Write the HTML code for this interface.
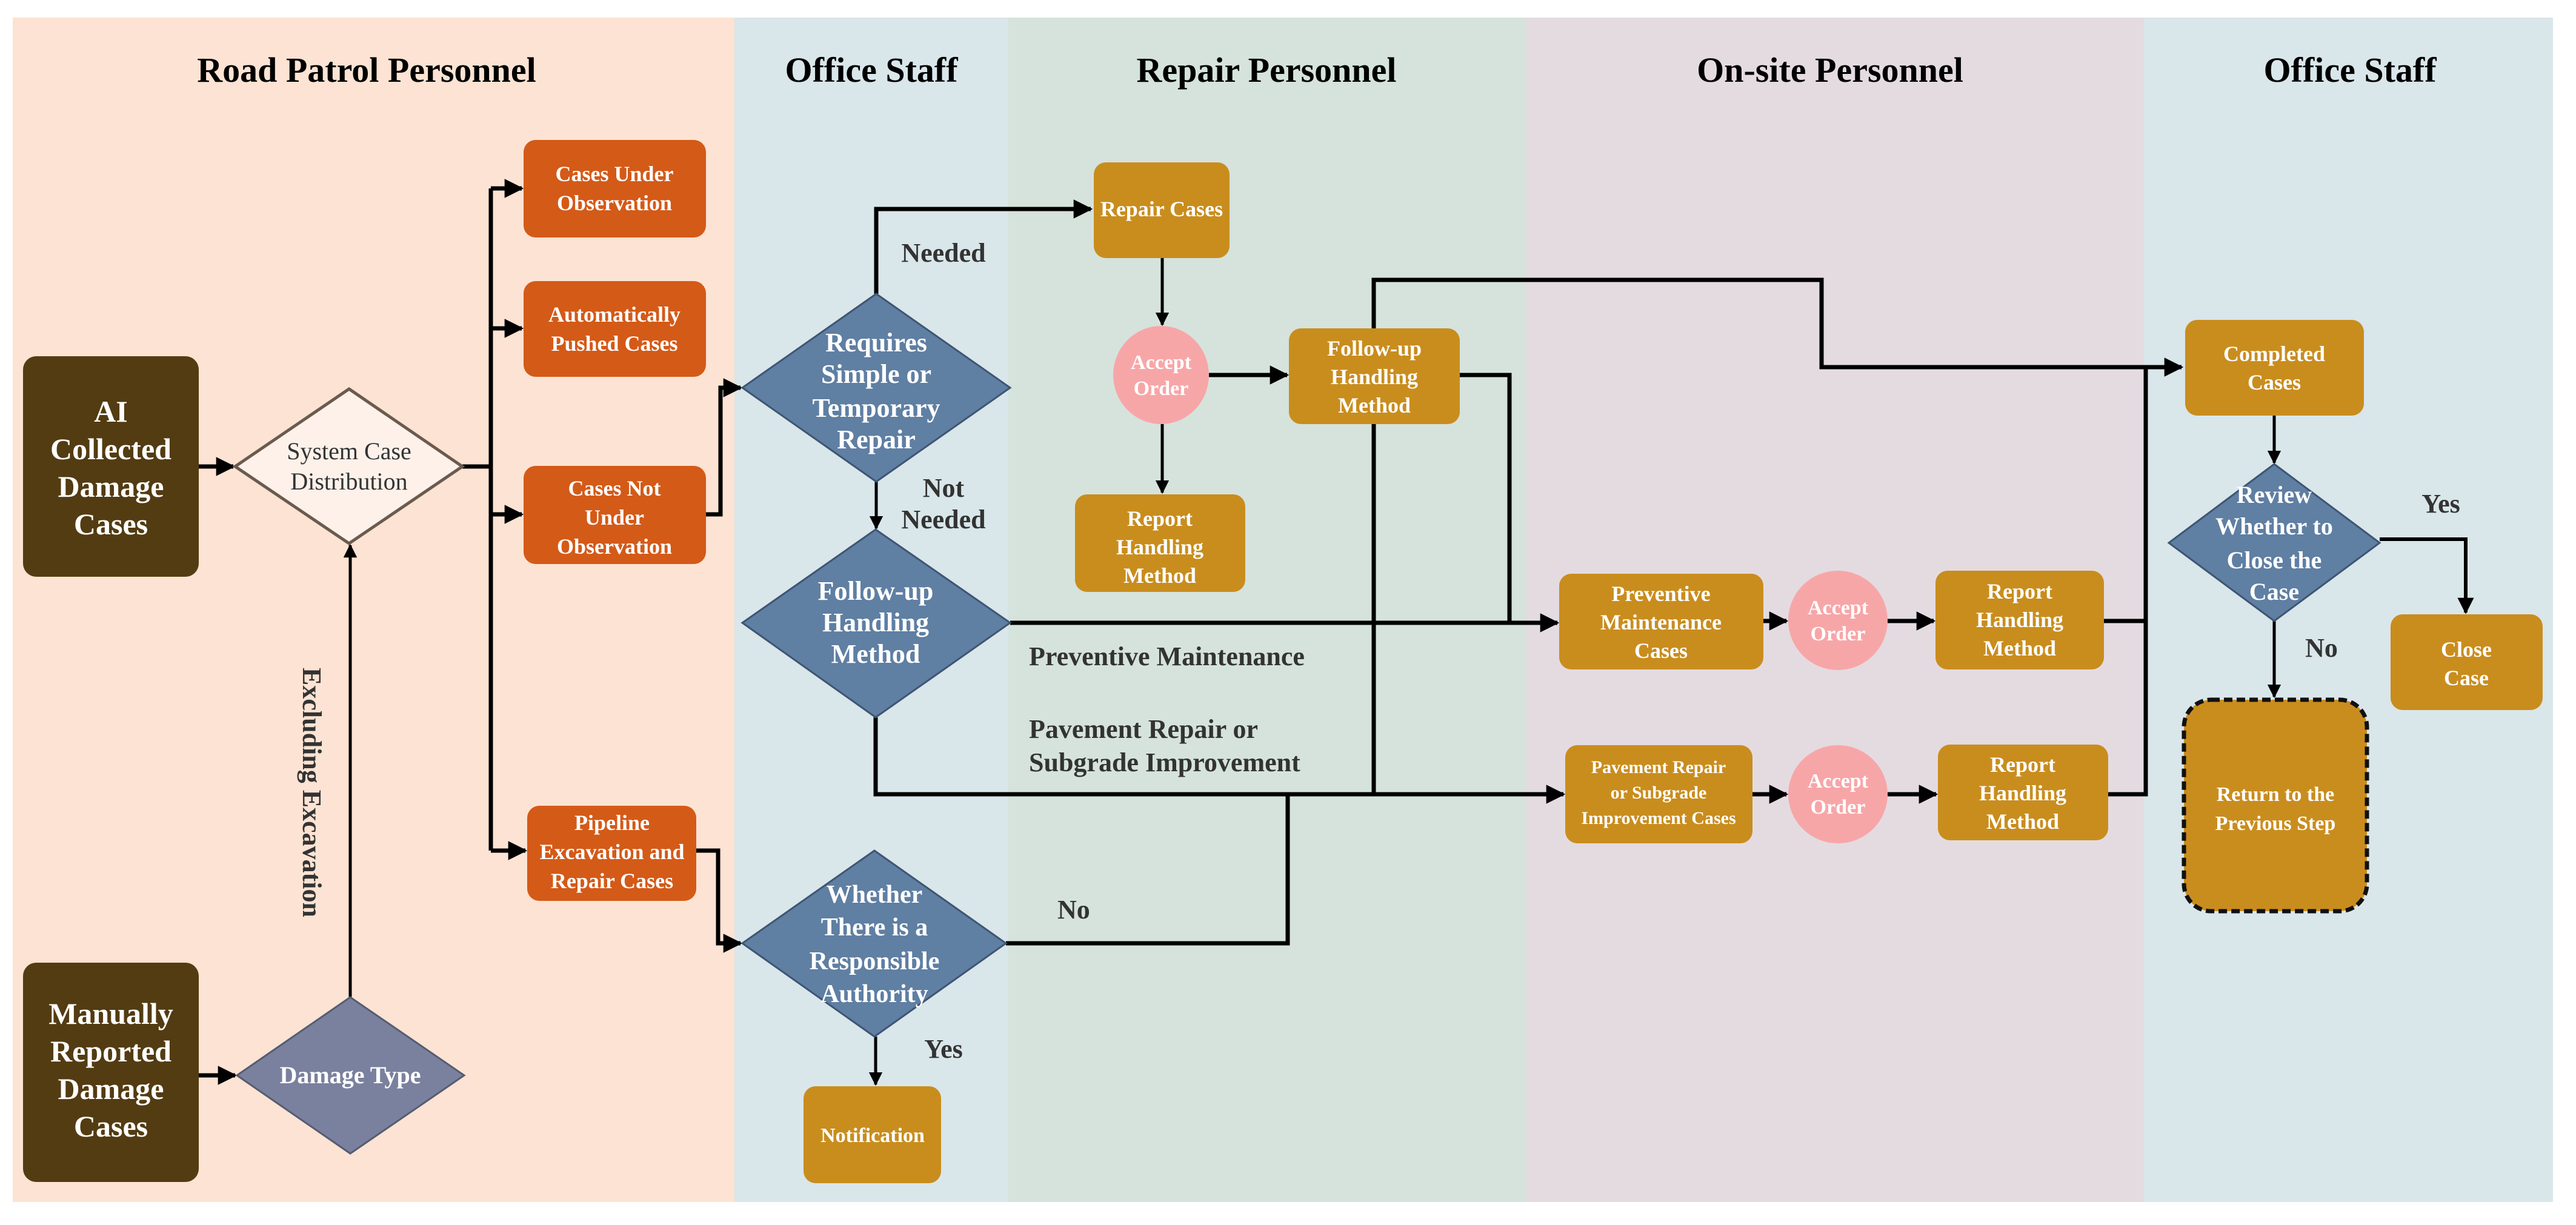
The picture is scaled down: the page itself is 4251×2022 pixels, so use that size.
<!DOCTYPE html>
<html><head><meta charset="utf-8"><style>
html,body{margin:0;padding:0;background:#fff;}
svg{display:block;}
text{font-family:"Liberation Serif",serif;font-weight:bold;}
.w{fill:#fff;}
.t{fill:#000;font-size:58px;}
.l{fill:#333;font-size:44px;}
.ln{stroke:#000;stroke-width:7;fill:none;}
</style></head><body>
<svg width="4251" height="2022" viewBox="0 0 4251 2022" xmlns="http://www.w3.org/2000/svg">
<defs>
<marker id="a" viewBox="0 0 10 10" refX="9" refY="5" markerWidth="4.5" markerHeight="4.5" orient="auto" markerUnits="strokeWidth"><path d="M0,0 L10,5 L0,10 z" fill="#000"/></marker>
</defs>
<rect x="0" y="0" width="4251" height="2022" fill="#fff"/>
<rect x="21" y="29" width="1191" height="1955" fill="#fce3d3"/>
<rect x="1212" y="29" width="452" height="1955" fill="#d9e6ea"/>
<rect x="1664" y="29" width="854" height="1955" fill="#d5e3dc"/>
<rect x="2518" y="29" width="1020" height="1955" fill="#e4dbe1"/>
<rect x="3538" y="29" width="675" height="1955" fill="#d9e6ea"/>

<text class="t" x="605" y="135" text-anchor="middle">Road Patrol Personnel</text>
<text class="t" x="1438" y="135" text-anchor="middle">Office Staff</text>
<text class="t" x="2090" y="135" text-anchor="middle">Repair Personnel</text>
<text class="t" x="3020" y="135" text-anchor="middle">On-site Personnel</text>
<text class="t" x="3878" y="135" text-anchor="middle">Office Staff</text>

<!-- connectors -->
<g class="ln">
<line x1="328" y1="770" x2="385" y2="770" marker-end="url(#a)"/>
<line x1="328" y1="1775" x2="388" y2="1775" marker-end="url(#a)"/>
<line x1="578" y1="1646" x2="578" y2="900" marker-end="url(#a)" stroke-width="5"/>
<polyline points="763,770 810,770"/>
<line x1="810" y1="311" x2="810" y2="1404"/>
<line x1="810" y1="311" x2="861" y2="311" marker-end="url(#a)"/>
<line x1="810" y1="542" x2="861" y2="542" marker-end="url(#a)"/>
<line x1="810" y1="849" x2="861" y2="849" marker-end="url(#a)"/>
<line x1="810" y1="1404" x2="867" y2="1404" marker-end="url(#a)"/>
<polyline points="1165,849 1189,849 1189,640 1222,640" marker-end="url(#a)"/>
<polyline points="1149,1404 1185,1404 1185,1557 1222,1557" marker-end="url(#a)"/>
<polyline points="1446,485 1446,345 1800,345" marker-end="url(#a)"/>
<line x1="1446" y1="795" x2="1446" y2="872" marker-end="url(#a)" stroke-width="5"/>
<line x1="1445" y1="1711" x2="1445" y2="1790" marker-end="url(#a)" stroke-width="5"/>
<polyline points="1660,1557 2125,1557 2125,1311"/>
<line x1="1918" y1="426" x2="1918" y2="536" marker-end="url(#a)" stroke-width="5"/>
<line x1="1918" y1="700" x2="1918" y2="813" marker-end="url(#a)" stroke-width="5"/>
<line x1="1995" y1="619" x2="2124" y2="619" marker-end="url(#a)"/>
<polyline points="2267,542 2267,462 3006,462 3006,606 3600,606" marker-end="url(#a)"/>
<polyline points="2409,619 2491,619 2491,1025"/>
<line x1="2267" y1="700" x2="2267" y2="1311"/>
<line x1="1667" y1="1028" x2="2570" y2="1028" marker-end="url(#a)"/>
<polyline points="1445,1184 1445,1311 2580,1311" marker-end="url(#a)"/>
<line x1="2910" y1="1025" x2="2948" y2="1025" marker-end="url(#a)"/>
<line x1="3115" y1="1025" x2="3191" y2="1025" marker-end="url(#a)"/>
<line x1="2892" y1="1311" x2="2948" y2="1311" marker-end="url(#a)"/>
<line x1="3115" y1="1311" x2="3195" y2="1311" marker-end="url(#a)"/>
<polyline points="3472,1025 3541,1025"/>
<polyline points="3479,1311 3541,1311 3541,606"/>
<line x1="3753" y1="686" x2="3753" y2="764" marker-end="url(#a)" stroke-width="5"/>
<polyline points="3927,890 4069,890 4069,1011" marker-end="url(#a)" stroke-width="6"/>
<line x1="3753" y1="1025" x2="3753" y2="1150" marker-end="url(#a)" stroke-width="5"/>
</g>

<!-- brown boxes -->
<rect x="38" y="588" width="290" height="364" rx="22" fill="#533c12"/>
<text class="w" font-size="50" text-anchor="middle"><tspan x="183" y="696">AI</tspan><tspan x="183" y="758">Collected</tspan><tspan x="183" y="820">Damage</tspan><tspan x="183" y="882">Cases</tspan></text>
<rect x="38" y="1589" width="290" height="362" rx="22" fill="#533c12"/>
<text class="w" font-size="50" text-anchor="middle"><tspan x="183" y="1690">Manually</tspan><tspan x="183" y="1752">Reported</tspan><tspan x="183" y="1814">Damage</tspan><tspan x="183" y="1876">Cases</tspan></text>

<!-- diamonds -->
<polygon points="576,642 763,770 576,897 388,770" fill="#fdf1ea" stroke="#6b5a4e" stroke-width="5"/>
<text font-size="40" fill="#333" text-anchor="middle" style="font-weight:normal"><tspan x="576" y="758">System Case</tspan><tspan x="576" y="808">Distribution</tspan></text>
<polygon points="578,1646 766,1775 578,1904 391,1775" fill="#7a819e" stroke="#555c70" stroke-width="3"/>
<text class="w" font-size="40" text-anchor="middle" x="578" y="1788">Damage Type</text>

<polygon points="1446,485 1667,640 1446,795 1225,640" fill="#5f7fa3" stroke="#3e5573" stroke-width="3"/>
<text class="w" font-size="44" text-anchor="middle"><tspan x="1446" y="580">Requires</tspan><tspan x="1446" y="632">Simple or</tspan><tspan x="1446" y="688">Temporary</tspan><tspan x="1446" y="740">Repair</tspan></text>
<polygon points="1445,874 1667,1028 1445,1184 1225,1028" fill="#5f7fa3" stroke="#3e5573" stroke-width="3"/>
<text class="w" font-size="44" text-anchor="middle"><tspan x="1445" y="990">Follow-up</tspan><tspan x="1445" y="1042">Handling</tspan><tspan x="1445" y="1094">Method</tspan></text>
<polygon points="1443,1404 1660,1557 1443,1711 1225,1557" fill="#5f7fa3" stroke="#3e5573" stroke-width="3"/>
<text class="w" font-size="42" text-anchor="middle"><tspan x="1443" y="1490">Whether</tspan><tspan x="1443" y="1544">There is a</tspan><tspan x="1443" y="1600">Responsible</tspan><tspan x="1443" y="1654">Authority</tspan></text>
<polygon points="3753,766 3927,896 3753,1025 3579,896" fill="#5f7fa3" stroke="#3e5573" stroke-width="3"/>
<text class="w" font-size="40" text-anchor="middle"><tspan x="3753" y="830">Review</tspan><tspan x="3753" y="882">Whether to</tspan><tspan x="3753" y="938">Close the</tspan><tspan x="3753" y="990">Case</tspan></text>

<!-- orange boxes -->
<g fill="#d45a18">
<rect x="864" y="231" width="301" height="161" rx="20"/>
<rect x="864" y="464" width="301" height="158" rx="20"/>
<rect x="864" y="769" width="301" height="162" rx="20"/>
<rect x="870" y="1330" width="279" height="157" rx="20"/>
</g>
<text class="w" font-size="36" text-anchor="middle"><tspan x="1014" y="299">Cases Under</tspan><tspan x="1014" y="347">Observation</tspan></text>
<text class="w" font-size="36" text-anchor="middle"><tspan x="1014" y="531">Automatically</tspan><tspan x="1014" y="579">Pushed Cases</tspan></text>
<text class="w" font-size="36" text-anchor="middle"><tspan x="1014" y="818">Cases Not</tspan><tspan x="1014" y="866">Under</tspan><tspan x="1014" y="914">Observation</tspan></text>
<text class="w" font-size="36" text-anchor="middle"><tspan x="1010" y="1370">Pipeline</tspan><tspan x="1010" y="1418">Excavation and</tspan><tspan x="1010" y="1466">Repair Cases</tspan></text>

<!-- golden boxes -->
<g fill="#c98d1e">
<rect x="1805" y="268" width="224" height="158" rx="20"/>
<rect x="1774" y="816" width="281" height="161" rx="20"/>
<rect x="2127" y="542" width="282" height="158" rx="20"/>
<rect x="1326" y="1793" width="227" height="160" rx="20"/>
<rect x="2573" y="947" width="337" height="158" rx="20"/>
<rect x="3194" y="942" width="278" height="163" rx="20"/>
<rect x="2583" y="1230" width="309" height="162" rx="20"/>
<rect x="3198" y="1229" width="281" height="158" rx="20"/>
<rect x="3606" y="528" width="295" height="158" rx="20"/>
<rect x="3945" y="1014" width="251" height="158" rx="20"/>
</g>
<rect x="3604" y="1155" width="302" height="349" rx="45" fill="#c98d1e" stroke="#111" stroke-width="7" stroke-dasharray="14,7"/>
<text class="w" font-size="36" text-anchor="middle" x="1917" y="357">Repair Cases</text>
<text class="w" font-size="36" text-anchor="middle"><tspan x="1914" y="868">Report</tspan><tspan x="1914" y="915">Handling</tspan><tspan x="1914" y="962">Method</tspan></text>
<text class="w" font-size="36" text-anchor="middle"><tspan x="2268" y="587">Follow-up</tspan><tspan x="2268" y="634">Handling</tspan><tspan x="2268" y="681">Method</tspan></text>
<text class="w" font-size="34" text-anchor="middle" x="1440" y="1885">Notification</text>
<text class="w" font-size="36" text-anchor="middle"><tspan x="2741" y="992">Preventive</tspan><tspan x="2741" y="1039">Maintenance</tspan><tspan x="2741" y="1086">Cases</tspan></text>
<text class="w" font-size="36" text-anchor="middle"><tspan x="3333" y="988">Report</tspan><tspan x="3333" y="1035">Handling</tspan><tspan x="3333" y="1082">Method</tspan></text>
<text class="w" font-size="30" text-anchor="middle"><tspan x="2737" y="1276">Pavement Repair</tspan><tspan x="2737" y="1318">or Subgrade</tspan><tspan x="2737" y="1360">Improvement Cases</tspan></text>
<text class="w" font-size="36" text-anchor="middle"><tspan x="3338" y="1274">Report</tspan><tspan x="3338" y="1321">Handling</tspan><tspan x="3338" y="1368">Method</tspan></text>
<text class="w" font-size="36" text-anchor="middle"><tspan x="3753" y="596">Completed</tspan><tspan x="3753" y="643">Cases</tspan></text>
<text class="w" font-size="36" text-anchor="middle"><tspan x="4070" y="1084">Close</tspan><tspan x="4070" y="1131">Case</tspan></text>
<text class="w" font-size="34" text-anchor="middle"><tspan x="3755" y="1322">Return to the</tspan><tspan x="3755" y="1370">Previous Step</tspan></text>

<!-- circles -->
<g fill="#f7a6a8">
<ellipse cx="1916" cy="619" rx="79" ry="81"/>
<ellipse cx="3033" cy="1024" rx="82" ry="82"/>
<ellipse cx="3033" cy="1311" rx="82" ry="81"/>
</g>
<text class="w" font-size="34" text-anchor="middle"><tspan x="1916" y="609">Accept</tspan><tspan x="1916" y="652">Order</tspan></text>
<text class="w" font-size="34" text-anchor="middle"><tspan x="3033" y="1014">Accept</tspan><tspan x="3033" y="1057">Order</tspan></text>
<text class="w" font-size="34" text-anchor="middle"><tspan x="3033" y="1300">Accept</tspan><tspan x="3033" y="1343">Order</tspan></text>

<!-- labels -->
<text class="l" x="1557" y="432" text-anchor="middle">Needed</text>
<text class="l" text-anchor="middle"><tspan x="1557" y="820">Not</tspan><tspan x="1557" y="872">Needed</tspan></text>
<text class="l" x="1698" y="1098">Preventive Maintenance</text>
<text class="l"><tspan x="1698" y="1218">Pavement Repair or</tspan><tspan x="1698" y="1273">Subgrade Improvement</tspan></text>
<text class="l" x="1745" y="1516">No</text>
<text class="l" x="1557" y="1746" text-anchor="middle">Yes</text>
<text class="l" x="4028" y="846" text-anchor="middle">Yes</text>
<text class="l" x="3831" y="1084" text-anchor="middle">No</text>
<text class="l" transform="translate(500,1308) rotate(90)" text-anchor="middle">Excluding Excavation</text>
</svg>
</body></html>
